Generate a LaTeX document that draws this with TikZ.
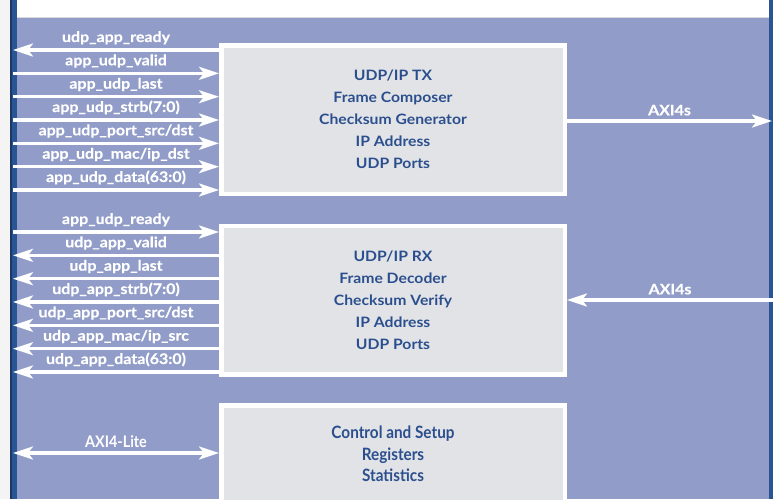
\documentclass[tikz,border=0pt]{standalone}
\usepackage{fontspec}
\setmainfont{Lato}
\newfontfamily\widefont[FakeStretch=1.1]{Lato}
\newfontfamily\labelfont[FakeStretch=1.1,FakeBold=0.4]{Lato}
\newfontfamily\narrowfont[FakeStretch=0.9]{Lato}
\usetikzlibrary{arrows.meta}

\definecolor{panelblue}{HTML}{919DC8}
\definecolor{frameblue}{HTML}{2A5595}
\definecolor{framedark}{HTML}{1D3766}
\definecolor{boxgray}{HTML}{E2E3E6}
\definecolor{textblue}{HTML}{2B4F8E}
\definecolor{edgegray}{HTML}{F4F4F4}

\begin{document}
\begin{tikzpicture}[x=1pt,y=-1pt]
  \tikzset{BoxStyle/.style = {
    shape         = rectangle,
    draw          = white,
    fill          = boxgray,
    line width    = 4.5pt,
    text          = textblue,
    font          = \widefont\bfseries\fontsize{14.3}{22}\selectfont,
    align         = center,
    inner sep     = 0pt,
    minimum width = 343.5pt,
    minimum height = 148.5pt
    }
  }
  \tikzset{SignalStyle/.style = {
    draw          = white,
    line width    = 3.2pt,
    -{Stealth[length=20pt, width=13pt, inset=5pt]}
    }
  }
  \tikzset{SignalLabelStyle/.style = {
    text          = white,
    font          = \labelfont\bfseries\fontsize{14.5}{16}\selectfont,
    inner sep     = 0pt,
    midway,
    above         = 4pt
    }
  }

  \useasboundingbox (0,0) rectangle (776,499);

  % frame and panel
  \fill[edgegray] (0,0) rectangle (10,499);
  \fill[frameblue] (10,0) rectangle (17,499);
  \fill[framedark] (10,0) rectangle (12,499);
  \fill[white] (17,0) rectangle (769,17);
  \fill[panelblue] (17,17) rectangle (769,499);
  \draw[black!15] (17,17.5) -- (769,17.5);
  \fill[frameblue] (769,0) rectangle (773,499);

  % blocks
  \node[BoxStyle](tx) at (393, 119.5) {UDP/IP TX\\Frame Composer\\Checksum Generator\\IP Address\\UDP Ports};
  \node[BoxStyle](rx) at (393, 300) {UDP/IP RX\\Frame Decoder\\Checksum Verify\\IP Address\\UDP Ports};
  \node[BoxStyle, minimum height=97.5pt, font=\narrowfont\bfseries\fontsize{17}{21.5}\selectfont](ctl) at (393, 454) {Control and Setup\\Registers\\Statistics};

  % free ends
  \coordinate (t1) at (13, 50);
  \coordinate (t2) at (13, 73.3);
  \coordinate (t3) at (13, 96.7);
  \coordinate (t4) at (13, 120);
  \coordinate (t5) at (13, 143.3);
  \coordinate (t6) at (13, 166.7);
  \coordinate (t7) at (13, 190);
  \coordinate (r1) at (13, 232);
  \coordinate (r2) at (13, 255.3);
  \coordinate (r3) at (13, 278.7);
  \coordinate (r4) at (13, 302);
  \coordinate (r5) at (13, 325.3);
  \coordinate (r6) at (13, 348.7);
  \coordinate (r7) at (13, 372);
  \coordinate (txout) at (772, 121);
  \coordinate (rxin) at (773, 300);
  \coordinate (lite) at (13, 453);

  % TX side
  \draw[SignalStyle](tx.west |- t1) to node[SignalLabelStyle]{udp\_app\_ready} (t1);
  \draw[SignalStyle](t2) to node[SignalLabelStyle]{app\_udp\_valid} (tx.west |- t2);
  \draw[SignalStyle](t3) to node[SignalLabelStyle]{app\_udp\_last} (tx.west |- t3);
  \draw[SignalStyle](t4) to node[SignalLabelStyle]{app\_udp\_strb(7:0)} (tx.west |- t4);
  \draw[SignalStyle](t5) to node[SignalLabelStyle]{app\_udp\_port\_src/dst} (tx.west |- t5);
  \draw[SignalStyle](t6) to node[SignalLabelStyle]{app\_udp\_mac/ip\_dst} (tx.west |- t6);
  \draw[SignalStyle](t7) to node[SignalLabelStyle]{app\_udp\_data(63:0)} (tx.west |- t7);
  \draw[SignalStyle](tx.east |- txout) to node[SignalLabelStyle]{AXI4s} (txout);

  % RX side
  \draw[SignalStyle](r1) to node[SignalLabelStyle]{app\_udp\_ready} (rx.west |- r1);
  \draw[SignalStyle](rx.west |- r2) to node[SignalLabelStyle]{udp\_app\_valid} (r2);
  \draw[SignalStyle](rx.west |- r3) to node[SignalLabelStyle]{udp\_app\_last} (r3);
  \draw[SignalStyle](rx.west |- r4) to node[SignalLabelStyle]{udp\_app\_strb(7:0)} (r4);
  \draw[SignalStyle](rx.west |- r5) to node[SignalLabelStyle]{udp\_app\_port\_src/dst} (r5);
  \draw[SignalStyle](rx.west |- r6) to node[SignalLabelStyle]{udp\_app\_mac/ip\_src} (r6);
  \draw[SignalStyle](rx.west |- r7) to node[SignalLabelStyle]{udp\_app\_data(63:0)} (r7);
  \draw[SignalStyle](rxin) to node[SignalLabelStyle]{AXI4s} (rx.east |- rxin);

  % control
  \draw[SignalStyle, {Stealth[length=20pt, width=13pt, inset=5pt]}-{Stealth[length=20pt, width=13pt, inset=5pt]}](lite) to node[SignalLabelStyle, font=\narrowfont\bfseries\fontsize{16}{18}\selectfont]{AXI4-Lite} (ctl.west |- lite);

\end{tikzpicture}
\end{document}
